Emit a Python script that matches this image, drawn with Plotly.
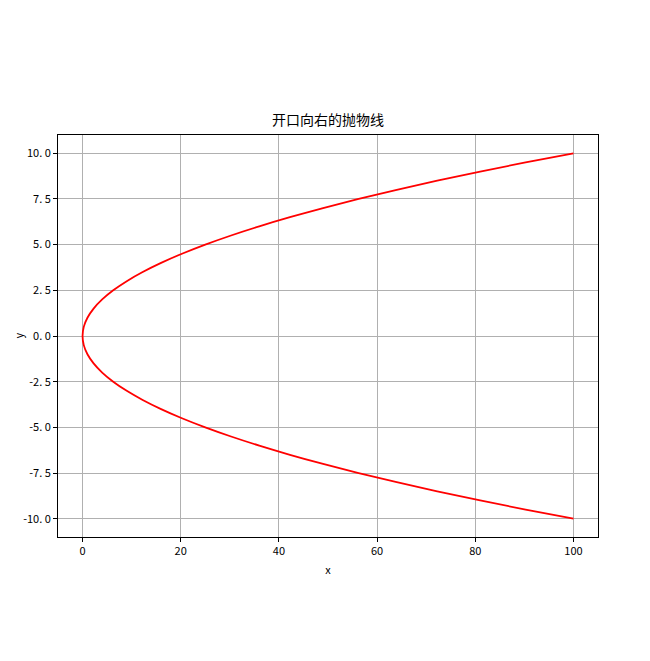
import plotly.graph_objects as go

# values (x, y) along the curve
y_vals = [-10, -9.5, -9, -8.5, -8, -7.5, -7, -6.5, -6, -5.5, -5, -4.5, -4, -3.5, -3, -2.5, -2, -1.5, -1, -0.5,
          0, 0.5, 1, 1.5, 2, 2.5, 3, 3.5, 4, 4.5, 5, 5.5, 6, 6.5, 7, 7.5, 8, 8.5, 9, 9.5, 10]
x_vals = [100, 90.25, 81, 72.25, 64, 56.25, 49, 42.25, 36, 30.25, 25, 20.25, 16, 12.25, 9, 6.25, 4, 2.25, 1, 0.25,
          0, 0.25, 1, 2.25, 4, 6.25, 9, 12.25, 16, 20.25, 25, 30.25, 36, 42.25, 49, 56.25, 64, 72.25, 81, 90.25, 100]
x_ticks = [0, 20, 40, 60, 80, 100]
y_ticks = [-10, -7.5, -5, -2.5, 0, 2.5, 5, 7.5, 10]
y_tick_text = ["-10. 0", "-7. 5", "-5. 0", "-2. 5", "0. 0", "2. 5", "5. 0", "7. 5", "10. 0"]

FONT = "Noto Sans CJK SC"

fig = go.Figure()
fig.add_trace(go.Scatter(x=x_vals, y=y_vals, mode="lines",
                         line=dict(color="red", width=1.8, shape="spline"),
                         showlegend=False))

axis_common = dict(showgrid=True, gridcolor="#b0b0b0", gridwidth=0.8,
                   showline=True, linecolor="black", linewidth=1, mirror=True,
                   ticks="outside", ticklen=4, tickcolor="black",
                   zeroline=False, tickfont=dict(family=FONT, size=11, color="black"))

fig.update_layout(
    width=650, height=661,
    margin=dict(l=50, r=60, t=127, b=132),
    paper_bgcolor="white", plot_bgcolor="white",
    title=dict(text="开口向右的抛物线", x=0.5, xref="paper", y=1 - 112 / 661, yanchor="middle",
               font=dict(family=FONT, size=14, color="black")),
    xaxis=dict(range=[-5, 105], tickvals=x_ticks,
               title=dict(text="x", font=dict(family=FONT, size=11, color="black"), standoff=9),
               **axis_common),
    yaxis=dict(range=[-11, 11], tickvals=y_ticks, ticktext=y_tick_text, **axis_common),
    annotations=[dict(text="y", xref="paper", yref="paper", x=-0.075, y=0.5,
                      xanchor="center", yanchor="middle",
                      showarrow=False, textangle=-90,
                      font=dict(family=FONT, size=11, color="black"))],
)

fig.write_html("out.html")
